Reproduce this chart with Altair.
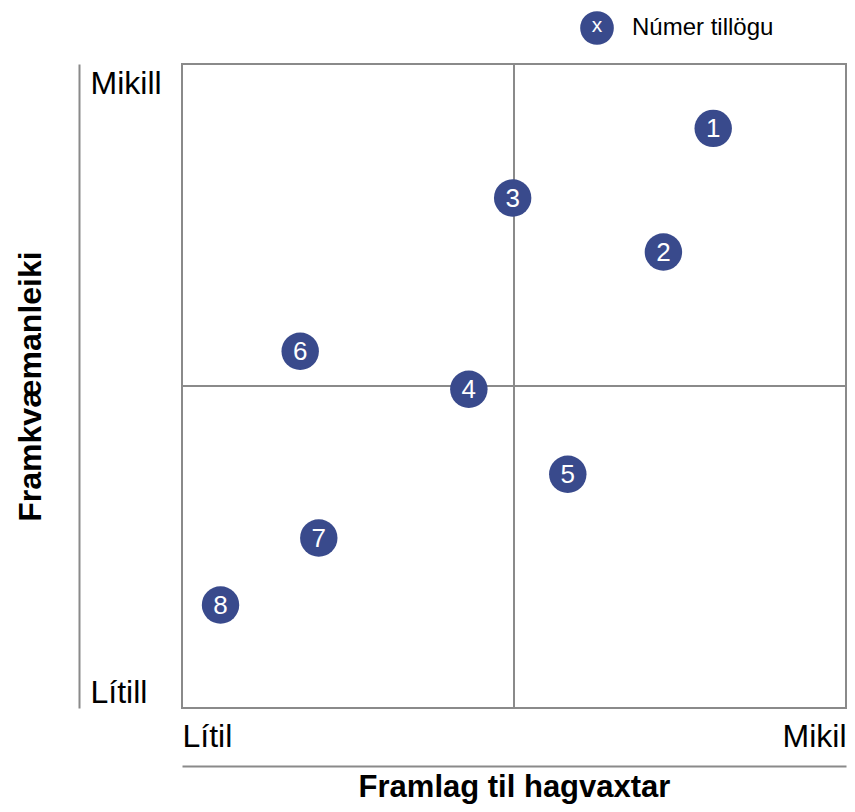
import altair as alt
import pandas as pd

# ---- data ----
ids = ["1", "2", "3", "4", "5", "6", "7", "8"]
framlag = [8.0, 7.25, 4.98, 4.32, 5.81, 1.78, 2.06, 0.58]   # x: Framlag til hagvaxtar
framkv = [9.0, 7.08, 7.92, 4.95, 3.63, 5.54, 2.64, 1.60]    # y: Framkvæmanleiki
axis_min, axis_mid, axis_max = 0, 5, 10
x_labels = ["Lítil", "Mikil"]
y_labels = ["Lítill", "Mikill"]
x_title = "Framlag til hagvaxtar"
y_title = "Framkvæmanleiki"
legend_symbol = ["x"]
legend_label = ["Númer tillögu"]

df = pd.DataFrame({"id": ids, "x": framlag, "y": framkv})
mid = pd.DataFrame({"m": [axis_mid]})
leg = pd.DataFrame({"sym": legend_symbol, "label": legend_label})

FONT = "Liberation Sans"
BLUE = "#394a8c"
GRAY = "#8a8a8a"

xscale = alt.Scale(domain=[axis_min, axis_max], nice=False, zero=False)
yscale = alt.Scale(domain=[axis_min, axis_max], nice=False, zero=False)

xaxis = alt.Axis(
    values=[axis_min, axis_max],
    labelExpr=f"datum.value == {axis_min} ? '{x_labels[0]}' : '{x_labels[1]}'",
    orient="bottom", offset=58, grid=False,
    domain=True, domainColor=GRAY, domainWidth=2,
    ticks=False, tickSize=0,
    labelFlush=True, labelPadding=-20, labelBaseline="alphabetic",
    labelFont=FONT, labelFontSize=32, labelColor="black",
    title=x_title, titleFont=FONT, titleFontSize=31, titleFontWeight="bold",
    titleColor="black", titleY=30, titleBaseline="alphabetic",
)
yaxis = alt.Axis(
    values=[axis_min, axis_max],
    labelExpr=f"datum.value == {axis_min} ? '{y_labels[0]}' : '{y_labels[1]}'",
    orient="left", offset=103, grid=False,
    domain=True, domainColor=GRAY, domainWidth=2,
    ticks=False, tickSize=0,
    labelAlign="left", labelPadding=-11, labelBaseline="alphabetic",
    labelOffset={"condition": {"test": f"datum.value == {axis_max}", "value": 29}, "value": -6},
    labelFont=FONT, labelFontSize=32, labelColor="black",
    title=y_title, titleFont=FONT, titleFontSize=32, titleFontWeight="bold",
    titleColor="black", titleX=-39, titleY=322, titleAngle=270,
    titleAlign="center", titleBaseline="alphabetic",
)


def X(field):
    return alt.X(field, type="quantitative", scale=xscale, axis=xaxis)


def Y(field):
    return alt.Y(field, type="quantitative", scale=yscale, axis=yaxis)


vline = alt.Chart(mid).mark_rule(color=GRAY, strokeWidth=2).encode(x=X("m"))
hline = alt.Chart(mid).mark_rule(color=GRAY, strokeWidth=2).encode(y=Y("m"))

points = alt.Chart(df).mark_circle(size=1400, color=BLUE, opacity=1).encode(
    x=X("x"), y=Y("y")
)
labels = alt.Chart(df).mark_text(
    color="white", font=FONT, fontSize=26, baseline="middle", align="center", dy=1
).encode(x=X("x"), y=Y("y"), text="id:N")

leg_circle = alt.Chart(leg).mark_circle(size=1134, color=BLUE, opacity=1).encode(
    x=alt.value(415), y=alt.value(-36)
)
leg_sym = alt.Chart(leg).mark_text(
    color="white", font=FONT, fontSize=21, baseline="middle", align="center"
).encode(x=alt.value(415), y=alt.value(-38), text="sym:N")
leg_text = alt.Chart(leg).mark_text(
    color="black", font=FONT, fontSize=24, baseline="middle", align="left"
).encode(x=alt.value(450), y=alt.value(-36), text="label:N")

chart = (
    alt.layer(vline, hline, points, labels, leg_circle, leg_sym, leg_text)
    .properties(
        width=664, height=644,
        autosize=alt.AutoSizeParams(type="none"),
        padding={"left": 174, "top": 56, "right": 1, "bottom": 96},
        background="white",
    )
    .configure_view(stroke=GRAY, strokeWidth=2)
)

chart.save("out.html", embed_options={"renderer": "svg", "actions": False})
